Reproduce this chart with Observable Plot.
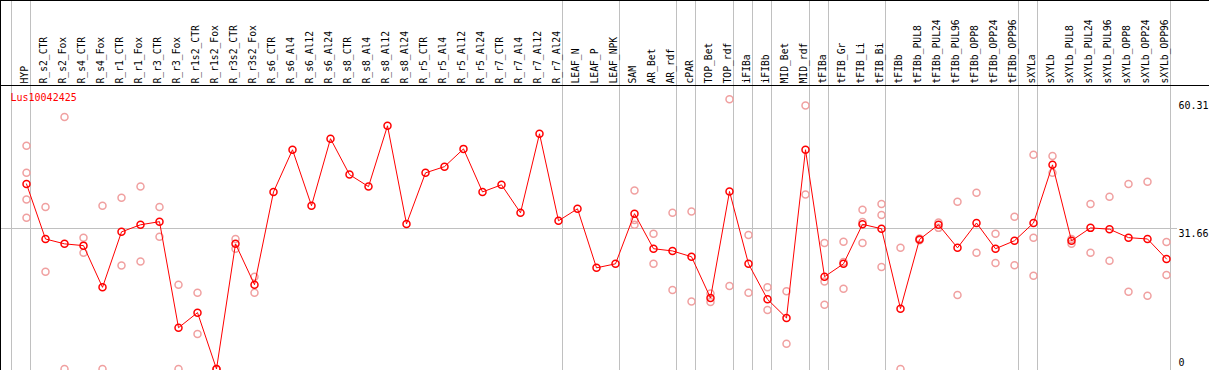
<!DOCTYPE html>
<html><head><meta charset="utf-8">
<script src="https://cdn.jsdelivr.net/npm/d3@7"></script>
<script src="https://cdn.jsdelivr.net/npm/@observablehq/plot@0.6"></script>
<style>html,body{margin:0;padding:0;background:#fff;} svg{display:block}</style>
</head><body><div id="chart"></div>
<script>
const title = "Lus10042425";
const categories = ["HYP","R_s2_CTR","R_s2_Fox","R_s4_CTR","R_s4_Fox","R_r1_CTR","R_r1_Fox","R_r3_CTR","R_r3_Fox","R_r1s2_CTR","R_r1s2_Fox","R_r3s2_CTR","R_r3s2_Fox","R_s6_CTR","R_s6_Al4","R_s6_Al12","R_s6_Al24","R_s8_CTR","R_s8_Al4","R_s8_Al12","R_s8_Al24","R_r5_CTR","R_r5_Al4","R_r5_Al12","R_r5_Al24","R_r7_CTR","R_r7_Al4","R_r7_Al12","R_r7_Al24","LEAF_N","LEAF_P","LEAF_NPK","SAM","AR_Bet","AR_rdf","cPAR","TOP_Bet","TOP_rdf","iFIBa","iFIBb","MID_Bet","MID_rdf","tFIBa","tFIB_Gr","tFIB_Li","tFIB_Bi","tFIBb","tFIBb_PUL8","tFIBb_PUL24","tFIBb_PUL96","tFIBb_OPP8","tFIBb_OPP24","tFIBb_OPP96","sXYLa","sXYLb","sXYLb_PUL8","sXYLb_PUL24","sXYLb_PUL96","sXYLb_OPP8","sXYLb_OPP24","sXYLb_OPP96"];
const means = [41.7,29.3,28.2,27.8,18.4,30.9,32.5,33.2,9.3,12.7,0,28.2,19.0,39.9,49.4,36.8,51.9,43.8,41.1,54.8,32.7,44.2,45.6,49.6,39.9,41.5,35.2,53.0,33.4,36.1,22.8,23.7,35.0,27.1,26.6,25.3,16.0,40.0,23.7,15.7,11.5,49.4,20.8,23.7,32.6,31.6,13.6,29.2,32.5,27.3,32.9,27.1,28.9,32.9,46.0,28.9,31.8,31.5,29.6,29.3,24.8];
const replicates = [
  [50.3,44.2,38.2,34.1],[36.5,21.9],[56.8,0],[29.6,26.2],[36.8,0],[38.6,23.3],[41.1,24.2],[36.5,29.8],[19.0,0],[17.2,7.9],[0,0],[29.3,27.1],[20.8,17.2],
  [],[],[],[],[],[],[],[],[],[],[],[],[],[],[],[],[],[],[],
  [40.2,33.6,32.5],[30.5,23.7],[35.2,17.8],[35.5,15.2],[17.0,15.1],[60.8,18.7],[30.2,17.2],[18.4,13.3],[17.5,5.7],[59.4,39.3],
  [28.4,19.7,14.5],[28.7,24.1,18.1],[35.9,33.1,28.4],[37.2,34.7,23.0],[27.3,0],[29.4,29.0],[33.0,31.8],[37.7,16.7],[39.7,26.2],[30.5,23.9],[34.3,23.4],
  [48.3,29.6,21.0],[48.0,44.2],[29.3,28.2],[37.2,26.2],[38.8,24.4],[41.7,17.4],[42.2,16.5],[28.6,21.2]
];
const groupSizes = [1,28,3,3,1,2,1,1,2,1,3,7,1,7];
const tickValues = [60.31, 31.66, 0];
const tickLabels = ["60.31", "31.66", "0"];

const rows = categories.map((c, i) => ({i, c, v: means[i]}));
const reps = replicates.flatMap((r, i) => r.map(v => ({i, v})));
const bounds = [-1];
{ let acc = -1; for (const s of groupSizes) { acc += s; bounds.push(acc); } }
const ticks = tickValues.map((v, k) => ({v, t: tickLabels[k]}));

const svg = Plot.plot({
  width: 1209, height: 370,
  marginTop: 0, marginRight: 0, marginBottom: 0, marginLeft: 0,
  x: {type: "linear", domain: [0, 60], range: [26, 1166], axis: null},
  y: {domain: [0, 60.31], range: [368.5, 100.85], axis: null},
  style: {fontFamily: "'DejaVu Sans Mono', monospace", fontSize: "10px", background: "white", color: "black"},
  marks: [
    Plot.ruleX(bounds, {x: d => d, dx: 4, stroke: "#c0c0c0", strokeOpacity: 1}),
    Plot.ruleY([tickValues[1]], {stroke: "#c0c0c0", strokeOpacity: 1, insetRight: 32}),
    Plot.dot(reps, {x: "i", y: "v", r: 3.5, stroke: "#f0a0a0", strokeWidth: 1.5}),
    Plot.line(rows, {x: "i", y: "v", stroke: "red", strokeWidth: 1}),
    Plot.dot(rows, {x: "i", y: "v", r: 3.5, stroke: "red", strokeWidth: 1.5}),
    Plot.text(rows, {x: "i", text: "c", frameAnchor: "top", rotate: -90, textAnchor: "start", lineAnchor: "middle", dy: 83, dx: -2, fill: "black", fontSize: 9.7}),
    Plot.text([title], {frameAnchor: "top-left", dx: 10, dy: 93, textAnchor: "start", lineAnchor: "top", fill: "red", fontSize: 10}),
    Plot.text(ticks.filter(d => d.v > 0), {y: "v", text: "t", frameAnchor: "right", dx: -31, textAnchor: "start", lineAnchor: "top", dy: 1, fill: "black", fontSize: 10}),
    Plot.text(ticks.filter(d => d.v === 0), {y: "v", text: "t", frameAnchor: "right", dx: -31, textAnchor: "start", lineAnchor: "bottom", dy: -3, fill: "black", fontSize: 10}),
    Plot.frame({stroke: "black"})
  ]
});
d3.select(svg).append("line")
  .attr("x1", 0).attr("x2", 1209).attr("y1", 85.5).attr("y2", 85.5)
  .attr("stroke", "black");
document.getElementById("chart").appendChild(svg);
</script>
</body></html>
